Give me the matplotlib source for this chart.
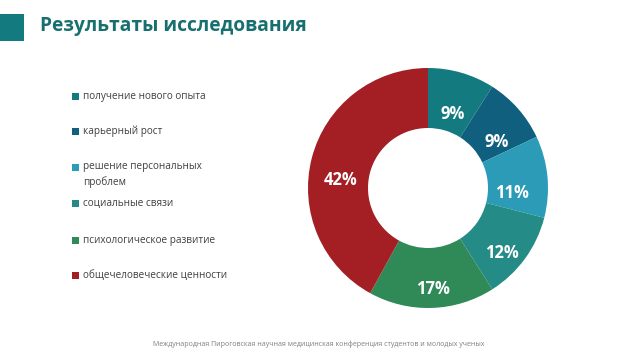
import matplotlib.pyplot as plt
from matplotlib.patches import Rectangle
import numpy as np

# Данные
categories = ['получение нового опыта', 'карьерный рост', 'решение персональных\nпроблем',
              'социальные связи', 'психологическое развитие', 'общечеловеческие ценности']
values = [9, 9, 11, 12, 17, 42]
colors = ['#137b80', '#105f7f', '#2b9bb7', '#248b87', '#2f8a58', '#a31f23']
# положение подписей процентов: радиус и поворот от середины сектора (градусы)
label_r = [0.65, 0.69, 0.70, 0.82, 0.84, 0.73]
label_da = [-2, -8, -9, -5, 1, 9]

plt.rcParams['font.family'] = ['Open Sans', 'DejaVu Sans']

fig = plt.figure(figsize=(6.4, 3.6), dpi=100)
fig.patch.set_facecolor('white')

# Заголовок и плашка
fig.patches.append(Rectangle((0, 1 - 41/360), 24/640, 27/360, transform=fig.transFigure,
                             facecolor='#137b80', edgecolor='none'))
fig.text(40/640, 1 - 26/360, 'Результаты исследования', fontsize=13.8, fontweight='bold',
         color='#17706f', va='center', ha='left')

# Кольцевая диаграмма
ax = fig.add_axes([(428 - 120)/640, 1 - (188 + 121)/360, 240/640, 242/360])
wedges, _ = ax.pie(values, colors=colors, startangle=90, counterclock=False,
                   radius=1.0, wedgeprops=dict(width=0.5, edgecolor='none'))
for w, v, r, da in zip(wedges, values, label_r, label_da):
    ang = np.deg2rad((w.theta1 + w.theta2) / 2 + da)
    ax.text(r * np.cos(ang), r * np.sin(ang), f'{v}%', color='white',
            fontsize=12, fontweight='bold', ha='center', va='center')
ax.set_xlim(-1, 1)
ax.set_ylim(-1, 1)

# Легенда
legend_y = [96, 131, 167, 203, 240, 275]
for lab, col, y in zip(categories, colors, legend_y):
    fig.patches.append(Rectangle((72/640, 1 - (y + 4)/360), 7/640, 7/360,
                                 transform=fig.transFigure, facecolor=col, edgecolor='none'))
    if '\n' in lab:
        fig.text(83/640, 1 - (y - 6)/360, lab, fontsize=7.2, color='#404040',
                 va='top', ha='left', linespacing=1.5)
    else:
        fig.text(83/640, 1 - y/360, lab, fontsize=7.2, color='#404040',
                 va='center', ha='left')

# Подвал
fig.text(319/640, 1 - 344/360,
         'Международная Пироговская научная медицинская конференция студентов и молодых ученых',
         fontsize=5, color='#808080', ha='center', va='center')

fig.savefig('out.png', dpi=100)
